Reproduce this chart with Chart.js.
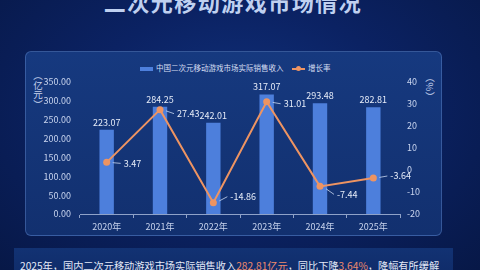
<!DOCTYPE html>
<html><head><meta charset="utf-8">
<script src="https://cdn.jsdelivr.net/npm/chart.js@4/dist/chart.umd.min.js"></script>
<style>
html,body{margin:0;padding:0;}
body{width:480px;height:270px;overflow:hidden;position:relative;font-family:"Noto Sans CJK SC","Noto Sans",sans-serif;
 background:radial-gradient(ellipse at 50% 40%,#10307a 0%,#0b2263 45%,#071847 100%);}
.title{position:absolute;left:0;width:466px;top:-12px;text-align:center;font-size:22px;font-weight:bold;letter-spacing:1.5px;line-height:26px;
 color:#bfd0f0;}
.panel{position:absolute;left:25px;top:51px;width:417px;height:185px;border-radius:6px;background:linear-gradient(180deg,#16397f 0%,#12306f 100%);
 border:1px solid rgba(120,160,230,0.35);box-sizing:border-box;}
.strip{position:absolute;left:14px;top:248px;width:439px;height:30px;background:linear-gradient(180deg,#123273,#0f2b68);}
.bottom{position:absolute;left:20px;top:259px;font-size:10.2px;color:#e3e9f7;white-space:nowrap;line-height:14px;}
.bottom .hl{color:#ee8a6c;}
.vt{position:absolute;writing-mode:vertical-rl;font-size:9.5px;color:#c8d4ee;line-height:10px;}
.legend{position:absolute;top:62px;font-size:7.5px;color:#d6def2;line-height:11px;white-space:nowrap;}
canvas{position:absolute;left:0;top:0;}
</style></head>
<body>
<div class="title">二次元移动游戏市场情况</div>
<div class="panel"></div>
<div class="strip"></div>
<div class="bottom">2025年，国内二次元移动游戏市场实际销售收入<span class="hl">282.81亿元</span>，同比下降<span class="hl">3.64%</span>，降幅有所缓解</div>
<div class="vt" style="left:33px;top:71px;">（亿元）</div>
<div class="vt" style="left:425px;top:73px;">（%）</div>
<div class="legend" style="left:140px;"><span style="display:inline-block;width:13px;height:4px;background:#4d7fdc;vertical-align:middle;margin-right:3px;"></span>中国二次元移动游戏市场实际销售收入</div>
<div class="legend" style="left:292px;"><span style="display:inline-block;position:relative;width:13px;height:2px;background:#ee9462;vertical-align:middle;margin-right:3px;"><span style="position:absolute;left:4px;top:-2px;width:5px;height:5px;border-radius:50%;background:#ee9462;"></span></span>增长率</div>
<canvas id="c" width="480" height="270"></canvas>
<script>
const categories = ["2020年","2021年","2022年","2023年","2024年","2025年"];
const revenue = [223.07, 284.25, 242.01, 317.07, 293.48, 282.81];
const growth = [3.47, 27.43, -14.86, 31.01, -7.44, -3.64];
const seriesNames = ["中国二次元移动游戏市场实际销售收入", "增长率"];

const growthLabelDy = [1, 4, -6, 2, 8, -2];

const labelPlugin = {
  id: 'labels',
  afterDatasetsDraw(chart) {
    const ctx = chart.ctx;
    ctx.save();
    ctx.font = '9px "Noto Sans CJK SC", sans-serif';
    ctx.fillStyle = '#e6ecf8';
    const barMeta = chart.getDatasetMeta(1);
    barMeta.data.forEach((el, i) => {
      ctx.textAlign = 'center';
      ctx.textBaseline = 'bottom';
      ctx.fillText(revenue[i].toFixed(2), el.x, el.y - 3);
    });
    const lineMeta = chart.getDatasetMeta(0);
    lineMeta.data.forEach((el, i) => {
      const dy = growthLabelDy[i];
      ctx.strokeStyle = 'rgba(200,215,240,0.8)';
      ctx.lineWidth = 1;
      ctx.beginPath();
      ctx.moveTo(el.x + 6, el.y + dy * 0.3);
      ctx.lineTo(el.x + 14, el.y + dy);
      ctx.stroke();
      ctx.textAlign = 'left';
      ctx.textBaseline = 'middle';
      ctx.fillText(growth[i].toFixed(2), el.x + 17, el.y + dy);
    });
    ctx.restore();
  }
};

new Chart(document.getElementById('c'), {
  data: {
    labels: categories,
    datasets: [
      { type: 'line', label: seriesNames[1], data: growth, yAxisID: 'y1', borderColor: '#ee9462', backgroundColor: '#ee9462',
        borderWidth: 2, pointRadius: 3.5, pointBackgroundColor: '#ee9462', pointBorderWidth: 0, tension: 0, order: 0 },
      { type: 'bar', label: seriesNames[0], data: revenue, yAxisID: 'y', backgroundColor: '#4d7fdc',
        barPercentage: 0.27, categoryPercentage: 1, order: 1 }
    ]
  },
  options: {
    responsive: false,
    animation: false,
    devicePixelRatio: 1,
    layout: { padding: { top: 82, bottom: 28, left: 0, right: 0 } },
    plugins: { legend: { display: false }, tooltip: { enabled: false } },
    scales: {
      x: {
        offset: true,
        grid: { display: true, drawOnChartArea: false, drawTicks: true, tickLength: 4, color: '#8fa2c8', offset: true },
        border: { display: true, color: '#8fa2c8', width: 1 },
        ticks: { color: '#c8d4ee', font: { size: 9, family: '"Noto Sans CJK SC", sans-serif' }, padding: 3 },
        afterFit(s) { s.height = 28; }
      },
      y: {
        position: 'left', min: 0, max: 350,
        grid: { display: false, drawTicks: false, tickLength: 0 }, border: { display: false },
        ticks: { stepSize: 50, color: '#c8d4ee', padding: 9, font: { size: 9, family: '"Noto Sans CJK SC", sans-serif' },
          callback: v => v.toFixed(2) },
        afterFit(s) { s.width = 80; }
      },
      y1: {
        position: 'right', min: -20, max: 40,
        grid: { display: false, drawTicks: false, tickLength: 0 }, border: { display: false },
        ticks: { stepSize: 10, color: '#c8d4ee', padding: 7, font: { size: 9, family: '"Noto Sans CJK SC", sans-serif' } },
        afterFit(s) { s.width = 80; }
      }
    }
  },
  plugins: [labelPlugin]
});
</script>
</body></html>
